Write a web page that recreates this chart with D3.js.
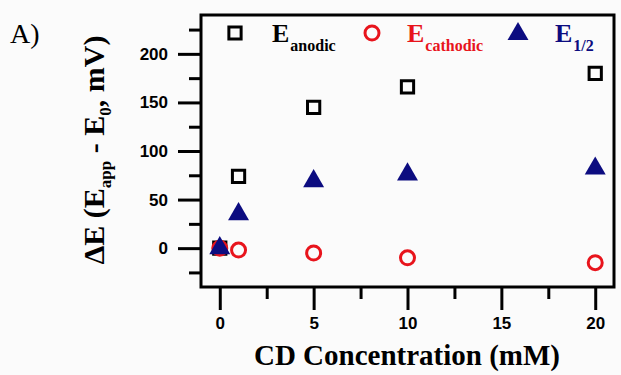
<!DOCTYPE html>
<html>
<head>
<meta charset="utf-8">
<script src="https://cdn.jsdelivr.net/npm/d3@7"></script>
<style>
  body { margin: 0; background: #fbfbfb; }
  svg { display: block; }
  .tick text { font-family: "Liberation Sans", Arial, sans-serif; font-weight: bold; font-size: 17px; }
</style>
</head>
<body>
<svg id="chart" width="621" height="375"></svg>
<script>
// CD concentration (mM)
const conc = [0, 1, 5, 10, 20];
// shifts in mV
const anodic = [0, 74, 145, 166, 180];
const cathodic = [0, -2, -5, -10, -15];
const half = [2, 37, 71, 78, 84];

const yMajor = [0, 50, 100, 150, 200];
const yMinor = [-25, 25, 75, 125, 175, 225];
const xMajor = [0, 5, 10, 15, 20];
const xMinor = [2.5, 7.5, 12.5, 17.5];

const RED = '#e8141c';
const NAVY = '#0c0c80';

const svg = d3.select('#chart');

// plot box in px
const box = { left: 201, right: 614, top: 15, bottom: 287 };

const x = d3.scaleLinear().domain([-1, 21]).range([box.left, box.right]);
const y = d3.scaleLinear().domain([-40, 240]).range([box.bottom, box.top]);

// --- axes ---
function styleAxis(g) {
  g.select('.domain').remove();
  g.selectAll('.tick line').attr('stroke', '#000').attr('stroke-width', 3);
}

svg.append('g')
  .attr('transform', `translate(${box.left},0)`)
  .call(d3.axisLeft(y).tickValues(yMajor).tickSize(23).tickPadding(10))
  .call(styleAxis);

svg.append('g')
  .attr('transform', `translate(${box.left},0)`)
  .call(d3.axisLeft(y).tickValues(yMinor).tickSize(12).tickFormat(''))
  .call(styleAxis);

svg.append('g')
  .attr('transform', `translate(0,${box.bottom})`)
  .call(d3.axisBottom(x).tickValues(xMajor).tickSize(23).tickPadding(7))
  .call(styleAxis);

svg.append('g')
  .attr('transform', `translate(0,${box.bottom})`)
  .call(d3.axisBottom(x).tickValues(xMinor).tickSize(12).tickFormat(''))
  .call(styleAxis);

svg.selectAll('.tick text').attr('fill', '#000');

// frame
svg.append('rect')
  .attr('x', box.left).attr('y', box.top)
  .attr('width', box.right - box.left).attr('height', box.bottom - box.top)
  .attr('fill', 'none').attr('stroke', '#000').attr('stroke-width', 3);

// --- points ---
const sq = d3.symbol().type(d3.symbolSquare).size(150);
const tri = d3.symbol().type(d3.symbolTriangle).size(190);

const pts = (vals) => conc.map((c, i) => ({ c, v: vals[i] }));

svg.append('g').selectAll('path')
  .data(pts(anodic)).join('path')
  .attr('d', sq)
  .attr('transform', d => `translate(${x(d.c)},${y(d.v)})`)
  .attr('fill', 'none').attr('stroke', '#000').attr('stroke-width', 3);

svg.append('g').selectAll('circle')
  .data(pts(cathodic)).join('circle')
  .attr('cx', d => x(d.c)).attr('cy', d => y(d.v)).attr('r', 7)
  .attr('fill', 'none').attr('stroke', RED).attr('stroke-width', 3);

svg.append('g').selectAll('path')
  .data(pts(half)).join('path')
  .attr('d', tri)
  .attr('transform', d => `translate(${x(d.c)},${y(d.v) + 2})`)
  .attr('fill', NAVY);

// --- legend ---
const serif = '"Liberation Serif", "Times New Roman", serif';
const legend = [
  { mx: 235, tx: 272, sub: 'anodic', color: '#000', kind: 'sq' },
  { mx: 372, tx: 407, sub: 'cathodic', color: RED, kind: 'ci' },
  { mx: 518, tx: 555, sub: '1/2', color: NAVY, kind: 'tr' },
];
legend.forEach(l => {
  if (l.kind === 'sq') {
    svg.append('path').attr('d', sq).attr('transform', `translate(${l.mx},33)`)
      .attr('fill', 'none').attr('stroke', '#000').attr('stroke-width', 3);
  } else if (l.kind === 'ci') {
    svg.append('circle').attr('cx', l.mx).attr('cy', 33).attr('r', 7)
      .attr('fill', 'none').attr('stroke', RED).attr('stroke-width', 3);
  } else {
    svg.append('path').attr('d', tri).attr('transform', `translate(${l.mx},34)`)
      .attr('fill', NAVY);
  }
  const t = svg.append('text').attr('x', l.tx).attr('y', 42)
    .attr('font-family', serif).attr('font-weight', 'bold').attr('fill', l.color);
  t.append('tspan').attr('font-size', 26).text('E');
  t.append('tspan').attr('font-size', 16).attr('dx', 1).attr('dy', 9).text(l.sub);
});

// --- titles ---
svg.append('text').attr('x', 10).attr('y', 43)
  .attr('font-family', serif).attr('font-size', 28).text('A)');

svg.append('text').attr('x', 407).attr('y', 365)
  .attr('text-anchor', 'middle')
  .attr('font-family', serif).attr('font-weight', 'bold').attr('font-size', 29)
  .text('CD Concentration (mM)');

const yt = svg.append('text')
  .attr('transform', 'translate(104,150) rotate(-90)')
  .attr('text-anchor', 'middle')
  .attr('font-family', serif).attr('font-weight', 'bold').attr('font-size', 30);
yt.append('tspan').text('\u0394E (E');
yt.append('tspan').attr('font-size', 17).attr('dy', 7).text('app');
yt.append('tspan').attr('dy', -7).text(' - E');
yt.append('tspan').attr('font-size', 17).attr('dy', 7).text('0');
yt.append('tspan').attr('dy', -7).text(', mV)');
</script>
</body>
</html>
